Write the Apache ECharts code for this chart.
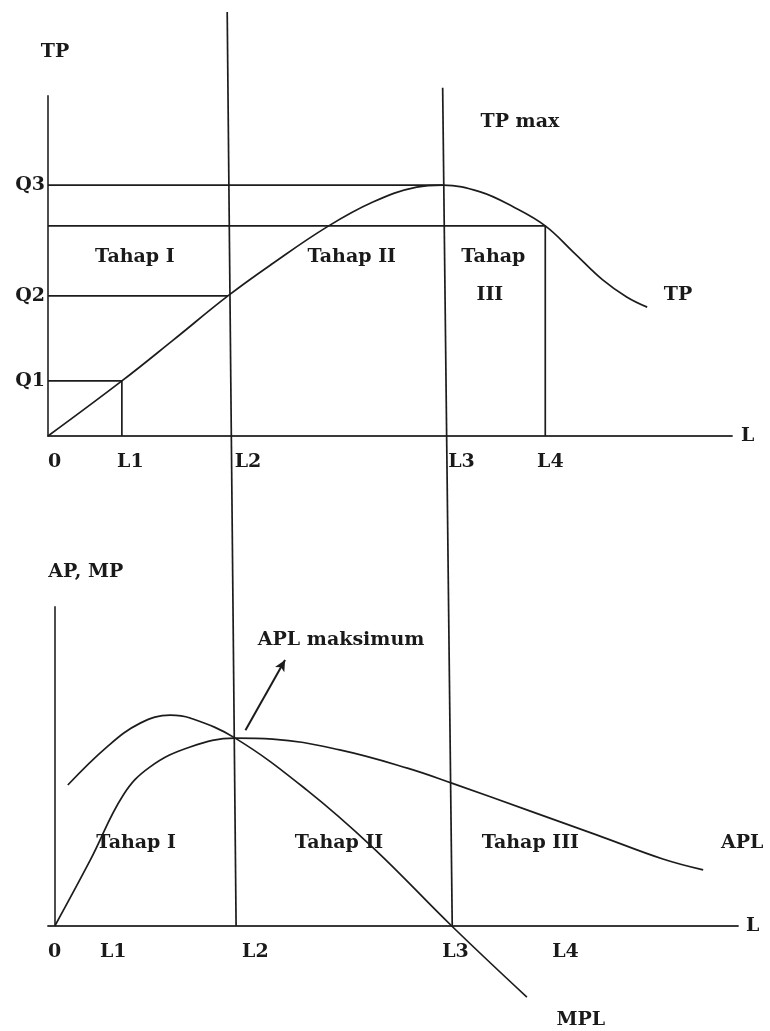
<!DOCTYPE html>
<html>
<head>
<meta charset="utf-8">
<script src="https://cdn.jsdelivr.net/npm/echarts@6.0.0/dist/echarts.min.js"></script>
<style>
  html, body { margin: 0; padding: 0; background: #fff; }
  #chart { width: 770px; height: 1031px; }
</style>
</head>
<body>
<div id="chart"></div>
<script>
// positions on the labour axis (L) and output levels (Q)
const L1 = 1.08, L2 = 2.63, L3 = 5.77, L4 = 7.27;
const Q1 = 1.62, Q2 = 4.12, QL4 = 6.18, Q3 = 7.38;

// total product curve (top panel)
const tpCurve = [
  [0, 0], [1.08, 1.62], [1.83, 2.82], [2.63, 4.12], [3.29, 5.08], [4.08, 6.15],
  [4.75, 6.88], [5.39, 7.32], [5.77, 7.38], [6.32, 7.18], [6.80, 6.74],
  [7.27, 6.18], [7.68, 5.41], [8.11, 4.59], [8.46, 4.09], [8.76, 3.79]
];

// average and marginal product curves (bottom panel)
const aplCurve = [
  [0, 0], [0.52, 2.07], [1.00, 4.10], [1.39, 4.98],
  [1.98, 5.61], [2.64, 5.89], [3.19, 5.86], [4.17, 5.52], [5.16, 4.95],
  [5.81, 4.48], [6.96, 3.60], [7.94, 2.85], [8.90, 2.10], [9.49, 1.76]
];
const mplCurve = [
  [0.19, 4.42], [0.76, 5.61], [1.25, 6.36], [1.69, 6.61], [1.98, 6.52],
  [2.64, 5.89], [3.69, 4.26], [4.66, 2.45], [5.81, 0], [6.91, -2.23]
];

// the two long dividers that run through both panels (top panel units)
const dividerL2 = [[2.62, 12.47], [2.75, -14.41]];
const dividerL3 = [[5.77, 10.24], [5.91, -14.41]];
const aplMaxArrow = [[2.79, 6.14], [3.37, 8.34]];

// tick labels
const xTickNames = ['0', 'L1', 'L2', 'L3', 'L4'];
const topTickAt = [0, 1.01, 2.73, 5.85, 7.15];
const bottomTickAt = [-0.1, 0.66, 2.74, 5.67, 7.28];
const yTickNames = ['Q1', 'Q2', 'Q3'];
const yTickAt = [Q1, Q2, Q3];

// text notes: [text, x, y]
const topNotes = [
  ['Tahap I', 1.27, 5.26], ['Tahap II', 4.44, 5.26], ['Tahap', 6.51, 5.26],
  ['III', 6.46, 4.15], ['TP', 9.21, 4.15], ['TP max', 6.90, 9.24]
];
const bottomNotes = [
  ['APL maksimum', 4.19, 8.97], ['Tahap I', 1.19, 2.60], ['Tahap II', 4.16, 2.60],
  ['Tahap III', 6.96, 2.60], ['APL', 10.06, 2.60], ['MPL', 7.70, -2.95]
];

const INK = '#1c1c1c';
const AXIS = '#3a3a3a';
const font = {fontFamily: 'DejaVu Serif', fontWeight: 'bold', fontSize: 19, color: '#1a1a1a'};

const seg = (g, pts, extra) => Object.assign({
  type: 'line', xAxisIndex: g, yAxisIndex: g, data: pts, symbol: 'none',
  silent: true, clip: false, animation: false,
  lineStyle: {color: INK, width: 1.7}
}, extra || {});

const notes = (g, list) => ({
  type: 'scatter', xAxisIndex: g, yAxisIndex: g, symbolSize: 0, clip: false, silent: true,
  itemStyle: {opacity: 1},
  data: list.map(n => ({name: n[0], value: [n[1], n[2]]})),
  label: Object.assign({show: true, position: 'inside', formatter: '{b}', opacity: 1}, font)
});

const myChart = echarts.init(document.getElementById('chart'));
const option = {
  backgroundColor: '#fff',
  animation: false,
  grid: [
    {left: 48, top: 96, width: 684, height: 340},
    {left: 48, top: 607, width: 690, height: 319}
  ],
  xAxis: [
    {
      type: 'value', gridIndex: 0, min: 0, max: 10,
      name: 'L', nameLocation: 'end', nameGap: 9,
      nameTextStyle: Object.assign({verticalAlign: 'middle', padding: [54, 0, 0, 0]}, font),
      axisLine: {lineStyle: {color: AXIS, width: 1.8}},
      axisTick: {show: false}, splitLine: {show: false},
      axisLabel: Object.assign({
        customValues: topTickAt, align: 'left', margin: 17,
        formatter: v => xTickNames[topTickAt.indexOf(v)]
      }, font)
    },
    {
      type: 'value', gridIndex: 1, min: -0.1, max: 10,
      name: 'L', nameLocation: 'end', nameGap: 8,
      nameTextStyle: Object.assign({verticalAlign: 'middle', padding: [54, 0, 0, 0]}, font),
      axisLine: {lineStyle: {color: AXIS, width: 1.8}},
      axisTick: {show: false}, splitLine: {show: false},
      axisLabel: Object.assign({
        customValues: bottomTickAt, align: 'left', margin: 17,
        formatter: v => xTickNames[bottomTickAt.indexOf(v)]
      }, font)
    }
  ],
  yAxis: [
    {
      type: 'value', gridIndex: 0, min: 0, max: 10,
      name: 'TP', nameLocation: 'end', nameGap: 44,
      nameTextStyle: Object.assign({verticalAlign: 'middle', align: 'center', padding: [0, 0, 0, 14]}, font),
      axisLine: {lineStyle: {color: AXIS, width: 1.8}},
      axisTick: {show: false}, splitLine: {show: false},
      axisLabel: Object.assign({
        customValues: yTickAt, margin: 3,
        formatter: v => yTickNames[yTickAt.indexOf(v)]
      }, font)
    },
    {
      type: 'value', gridIndex: 1, min: 0, max: 10,
      name: 'AP, MP', nameLocation: 'end', nameGap: 35,
      nameTextStyle: Object.assign({verticalAlign: 'middle', align: 'center', padding: [0, 0, 0, 62]}, font),
      axisLine: {lineStyle: {color: AXIS, width: 1.8}},
      axisTick: {show: false}, splitLine: {show: false},
      axisLabel: {show: false}
    }
  ],
  series: [
    // top panel: TP curve and guide lines
    seg(0, tpCurve, {smooth: 0.4}),
    seg(0, [[0, Q3], [L3, Q3]]),
    seg(0, [[0, QL4], [L4, QL4]]),
    seg(0, [[0, Q2], [L2, Q2]]),
    seg(0, [[0, Q1], [L1, Q1]]),
    seg(0, [[L1, Q1], [L1, 0]]),
    seg(0, [[L4, QL4], [L4, 0]]),
    seg(0, dividerL2),
    seg(0, dividerL3),
    notes(0, topNotes),
    // bottom panel: APL, MPL and the arrow to APL max
    seg(1, aplCurve, {smooth: 0.4}),
    seg(1, mplCurve, {smooth: 0.4}),
    {
      type: 'line', xAxisIndex: 1, yAxisIndex: 1, data: [], silent: true,
      markLine: {
        silent: true, animation: false,
        symbol: ['none', 'arrow'], symbolSize: [8, 11],
        label: {show: false},
        lineStyle: {color: INK, width: 2, type: 'solid'},
        data: [[{coord: aplMaxArrow[0]}, {coord: aplMaxArrow[1]}]]
      }
    },
    notes(1, bottomNotes)
  ]
};
myChart.setOption(option);
</script>
</body>
</html>
